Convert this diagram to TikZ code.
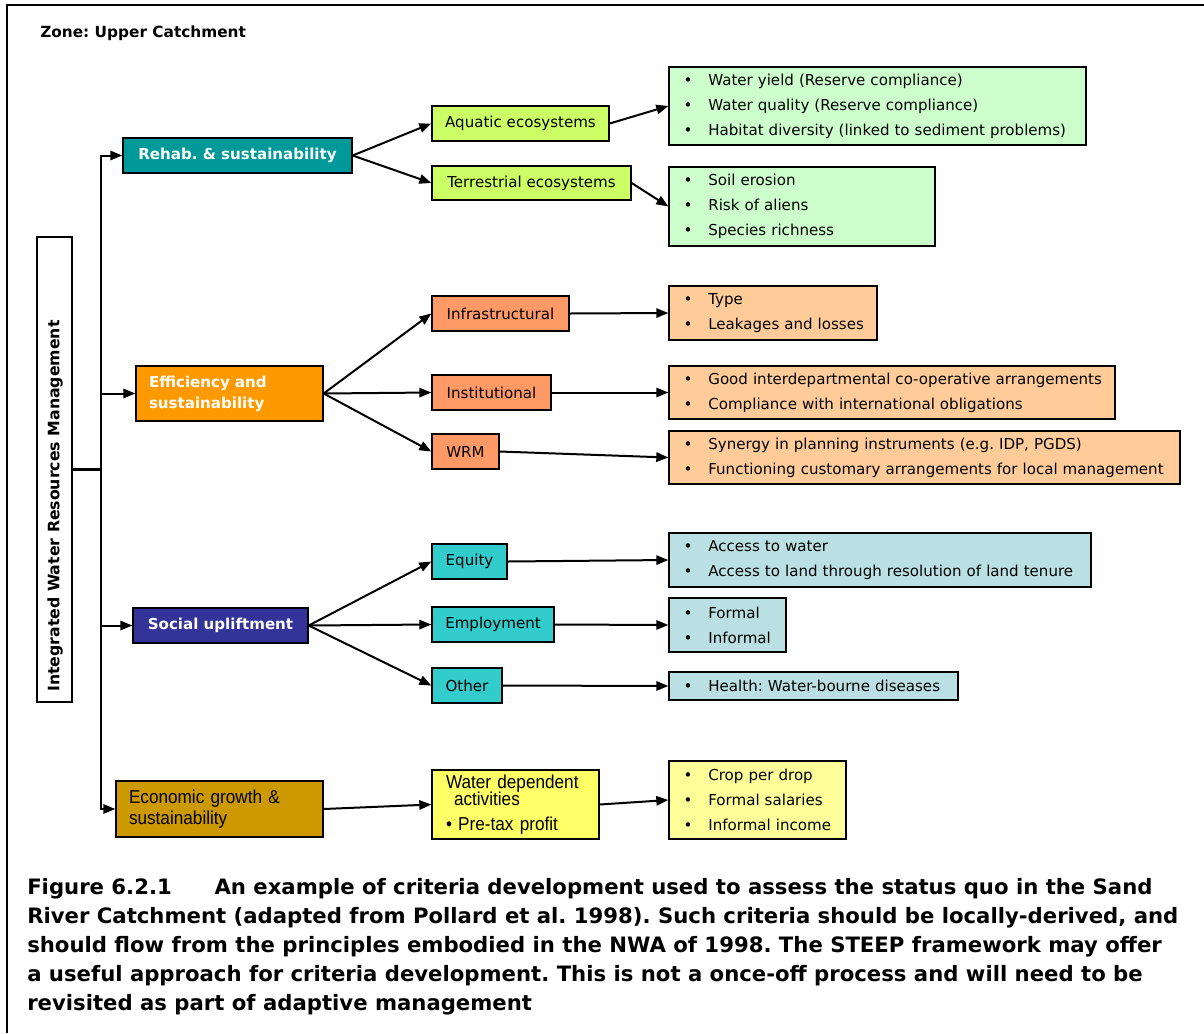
\documentclass[tikz,border=0pt]{standalone}
\usepackage{fontspec}
\setmainfont{DejaVu Sans}
\newfontfamily\narrowfont{Liberation Sans}[FakeStretch=0.92]
\usetikzlibrary{arrows.meta}
\frenchspacing

\definecolor{cTeal}{HTML}{009999}
\definecolor{cOrange}{HTML}{FF9900}
\definecolor{cNavy}{HTML}{333399}
\definecolor{cGold}{HTML}{CC9900}
\definecolor{cLime}{HTML}{CCFF66}
\definecolor{cSalmon}{HTML}{FF9966}
\definecolor{cTurq}{HTML}{33CCCC}
\definecolor{cYellow}{HTML}{FFFF66}
\definecolor{cPaleGreen}{HTML}{CCFFCC}
\definecolor{cPeach}{HTML}{FFCC99}
\definecolor{cPaleBlue}{HTML}{BBE0E3}
\definecolor{cPaleYellow}{HTML}{FFFF99}

\newcommand{\boxfont}{\fontsize{11.3}{18.75}\selectfont}
\newcommand{\headfont}{\bfseries\fontsize{11.3}{15.75}\selectfont}
\newcommand{\econfont}{\narrowfont\fontsize{14}{15.75}\selectfont}
% one bullet item of a criteria list
\newcommand{\itm}[1]{\mbox{\makebox[18.5pt][l]{•}#1}}

% box given by its corners in pixel units, text centred
\newcommand{\cbox}[7][]{%
  \pgfmathsetmacro\bw{(#5-#3)*0.75}%
  \pgfmathsetmacro\bh{(#6-#4)*0.75}%
  \node[bx,#1,minimum width=\bw pt,minimum height=\bh pt] (#2) at ({(#3+#5)/2},{(#4+#6)/2}) {#7};}
% box given by its corners, text left aligned with padding #7 (pt)
\newcommand{\lbox}[8][]{%
  \pgfmathsetmacro\bw{(#5-#3)*0.75}%
  \pgfmathsetmacro\bh{(#6-#4)*0.75}%
  \pgfmathsetmacro\tw{\bw-2*#7}%
  \node[bx,#1,align=left,inner xsep=#7 pt,text width=\tw pt,minimum width=\bw pt,minimum height=\bh pt] (#2) at ({(#3+#5)/2},{(#4+#6)/2}) {#8};}

\tikzset{
  bx/.style={draw=black, line width=1pt, inner ysep=0pt, font=\boxfont},
  arr/.style={line width=1.5pt, -{Triangle[length=9pt,width=7pt]}},
  plain/.style={line width=1.6pt}
}

\begin{document}
\begin{tikzpicture}[x=0.75pt,y=-0.75pt]
\useasboundingbox (0,0) rectangle (1204,1033);
\fill[white] (0,0) rectangle (1204,1033);
\draw[line width=1.5pt] (1204,5) -- (7,5) -- (7,1033);

\node[anchor=west,inner sep=0,font=\bfseries\fontsize{11.5}{13}\selectfont] (zone) at (40,33) {Zone: Upper Catchment};

% root
\cbox[fill=white]{iwrm}{37}{237}{72}{702}{}
\node[rotate=90,inner sep=0,font=\bfseries\fontsize{11.8}{13}\selectfont] (iwrmtext) at (55,506) {Integrated Water Resources Management};

% principles
\cbox[fill=cTeal,text=white,font=\headfont]{rehab}{123}{138}{352}{173}{Rehab. \& sustainability}
\lbox[fill=cOrange,text=white,font=\headfont]{eff}{136}{366}{323}{421}{9.75}{Efficiency and\\sustainability}
\cbox[fill=cNavy,text=white,font=\headfont]{social}{133}{608}{308}{643}{Social upliftment}
\lbox[fill=cGold,font=\econfont]{econ}{116}{781}{323}{837}{9.75}{Economic growth \&\\sustainability}

% objectives
\cbox[fill=cLime]{aqua}{432}{106}{609}{141}{Aquatic ecosystems}
\cbox[fill=cLime]{terr}{432}{166}{631}{200}{Terrestrial ecosystems}
\cbox[fill=cSalmon]{infra}{432}{296}{569}{331}{Infrastructural}
\cbox[fill=cSalmon]{inst}{432}{375}{551}{410}{Institutional}
\cbox[fill=cSalmon]{wrm}{432}{434}{499}{469}{WRM}
\cbox[fill=cTurq]{equity}{432}{544}{507}{579}{Equity}
\cbox[fill=cTurq]{employ}{432}{607}{554}{642}{Employment}
\cbox[fill=cTurq]{other}{432}{668}{502}{703}{Other}
\lbox[fill=cYellow,font=\econfont]{wda}{432}{770}{599}{839}{10.5}{Water dependent\\[-3.5pt]\hspace*{6pt}activities\\[3pt]\textbullet\ Pre-tax profit}

% criteria
\lbox[fill=cPaleGreen]{yield}{669}{67}{1086}{145}{11}{\itm{Water yield (Reserve compliance)}\\\itm{Water quality (Reserve compliance)}\\\itm{Habitat diversity (linked to sediment problems)}}
\lbox[fill=cPaleGreen]{soil}{669}{167}{935}{246}{11}{\itm{Soil erosion}\\\itm{Risk of aliens}\\\itm{Species richness}}
\lbox[fill=cPeach]{type}{669}{286}{877}{340}{11}{\itm{Type}\\\itm{Leakages and losses}}
\lbox[fill=cPeach]{coop}{669}{366}{1115}{419}{11}{\itm{Good interdepartmental co-operative arrangements}\\\itm{Compliance with international obligations}}
\lbox[fill=cPeach]{synergy}{669}{431}{1180}{484}{11}{\itm{Synergy in planning instruments (e.g. IDP, PGDS)}\\\itm{Functioning customary arrangements for local management}}
\lbox[fill=cPaleBlue]{access}{669}{533}{1091}{587}{11}{\itm{Access to water}\\\itm{Access to land through resolution of land tenure}}
\lbox[fill=cPaleBlue]{formal}{669}{598}{786}{652}{11}{\itm{Formal}\\\itm{Informal}}
\lbox[fill=cPaleBlue]{health}{669}{672}{958}{700}{11}{\itm{Health: Water-bourne diseases}}
\lbox[fill=cPaleYellow]{crop}{669}{761}{846}{839}{11}{\itm{Crop per drop}\\\itm{Formal salaries}\\\itm{Informal income}}

% trunk from the root to the principles
\coordinate (jn) at (101,469.5);
\draw[plain] (iwrm.east) -- (jn);
\draw[plain] (jn) -- (jn |- rehab.west);
\draw[plain] (jn) -- (jn |- econ.west);
\draw[arr] (jn) |- (rehab.west);
\draw[arr] (jn) |- (eff.west);
\draw[arr] (jn) |- (social.west);
\draw[arr] (jn) |- (econ.west);

% principles to objectives
\draw[arr] (rehab.east) -- (aqua.west);
\draw[arr] (rehab.east) -- (terr.west);
\draw[arr] (eff.east) -- (infra.west);
\draw[arr] (eff.east) -- (inst.west);
\draw[arr] (eff.east) -- (wrm.west);
\draw[arr] (social.east) -- (equity.west);
\draw[arr] (social.east) -- (employ.west);
\draw[arr] (social.east) -- (other.west);
\draw[arr] (econ.east) -- (wda.west);

% objectives to criteria
\draw[arr] (aqua.east) -- (yield.west);
\draw[arr] (terr.east) -- (soil.west);
\draw[arr] (infra.east) -- (type.west);
\draw[arr] (inst.east) -- (coop.west);
\draw[arr] (wrm.east) -- (synergy.west);
\draw[arr] (equity.east) -- (access.west);
\draw[arr] (employ.east) -- (formal.west);
\draw[arr] (other.east) -- (health.west);
\draw[arr] (wda.east) -- (crop.west);

\node[anchor=north west,align=left,inner sep=0,font=\bfseries\fontsize{15.9}{21.75}\selectfont] (caption) at (27,878)
{Figure 6.2.1\hspace{32pt}An example of criteria development used to assess the status quo in the Sand\\
River Catchment (adapted from Pollard et al. 1998). Such criteria should be locally-derived, and\\
should flow from the principles embodied in the NWA of 1998. The STEEP framework may offer\\
a useful approach for criteria development. This is not a once-off process and will need to be\\
revisited as part of adaptive management};
\end{tikzpicture}
\end{document}
